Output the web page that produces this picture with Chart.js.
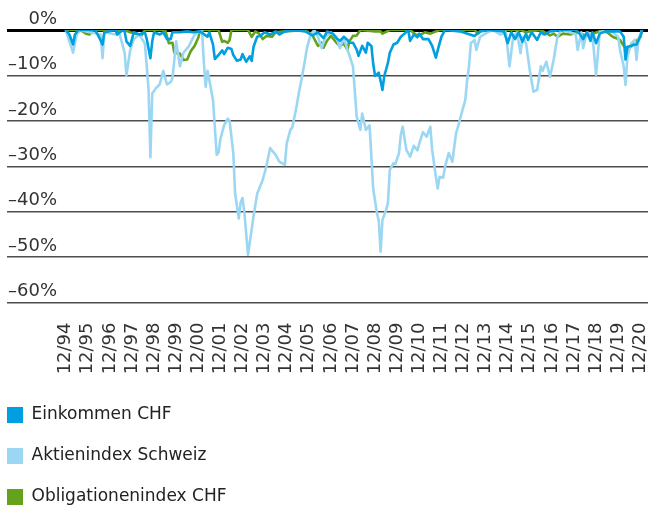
<!DOCTYPE html>
<html>
<head>
<meta charset="utf-8">
<script src="https://cdn.jsdelivr.net/npm/chart.js@4.4.1/dist/chart.umd.min.js"></script>
<style>
html,body{margin:0;padding:0;background:#fff;}
canvas{display:block;}
</style>
</head>
<body>
<canvas id="c" width="648" height="506"></canvas>
<script>
// ---- data (months since 12/1994, drawdown in %) ----
const seriesNames = ['Einkommen CHF', 'Aktienindex Schweiz', 'Obligationenindex CHF'];
const seriesColors = ['#009fe0', '#9bd7f3', '#64a11c'];

const xTickLabels = ['12/94','12/95','12/96','12/97','12/98','12/99','12/00','12/01','12/02','12/03','12/04','12/05','12/06','12/07','12/08','12/09','12/10','12/11','12/12','12/13','12/14','12/15','12/16','12/17','12/18','12/19','12/20'];
const yTickLabels = ['0%','–10%','–20%','–30%','–40%','–50%','–60%'];

const einkommenMonths = [0,2,4,5,7,16,18,20,21,27,28,31,32,33,35,37,40,43,44,46,47,48,51,53,55,57,58,62,66,69,73,77,78,80,81,83,85,86,88,90,91,93,95,96,98,100,101,102,104,106,108,111,114,116,119,124,130,134,137,140,142,145,147,149,151,153,154,156,158,159,161,163,164,166,167,168,170,171,172,173,174,175,176,178,180,182,184,186,187,189,191,192,194,197,199,201,202,204,206,214,222,225,230,238,240,242,244,246,248,250,251,253,256,258,260,263,269,277,279,281,283,285,286,288,290,293,297,301,303,304,305,307,308,310,312,313];
const einkommenValues = [0,-1,-3.2,-1,0,0,-1.5,-3.2,-0.5,0,-1,0,-0.3,-2.5,-3.5,-0.5,-1,-0.5,-2,-6.2,-2.5,-0.5,-1,-0.5,-2,-2,-0.5,-0.5,-0.3,-0.5,-0.3,-1.5,-0.5,-3.2,-6.4,-5.5,-4.5,-5.3,-3.9,-4.2,-5.5,-6.8,-6.5,-5.3,-7,-5.8,-6.8,-3.7,-1.5,-1.2,-0.5,-1,-0.3,-1,-0.3,0,-0.3,-1.2,-0.5,-1.8,-0.3,-0.8,-1.8,-2.4,-1.5,-2.2,-2.8,-2.8,-4.3,-5.7,-3.5,-5,-2.8,-3.5,-7.5,-10.1,-9.4,-11.2,-13.2,-10.1,-8.7,-7.2,-5,-3.2,-2.8,-1.5,-0.8,0,-2.4,-1,-1.6,-0.8,-2,-2,-3.5,-6.1,-4.5,-1.5,0,-0.3,-1.3,-0.3,0,-0.3,-2.9,-0.5,-2,-0.5,-2.6,-0.8,-2.2,-0.5,-2.2,-0.5,-1,-0.3,0,0,-0.8,-2,-0.5,-2.4,-0.5,-2.9,-0.8,-0.3,-0.3,-0.3,-1.5,-6.5,-3.7,-3.5,-3.3,-3.2,-1.5,0];

const aktienMonths = [0,2,4,6,8,13,19,20,21,27,29,32,33,35,37,40,43,45,46,47,49,51,53,55,57,58,60,62,64,67,70,72,74,75,76,77,78,80,82,83,84,86,88,89,91,92,94,95,96,97,99,102,104,105,107,109,111,113,114,116,119,120,122,123,125,127,128,130,131,133,135,137,139,141,144,147,149,151,153,154,156,158,160,161,163,165,166,167,169,170,171,172,174,175,176,178,179,181,182,183,185,187,189,191,192,194,196,198,199,201,202,203,205,206,208,210,211,212,213,215,217,218,219,220,222,223,225,229,232,236,239,241,243,245,247,248,250,252,254,256,258,259,261,263,265,267,269,274,277,278,280,281,283,286,288,290,293,297,300,301,303,304,305,307,309,310,311,313];
const aktienValues = [0,-2.5,-5,-1,0,-0.5,-1,-6.2,-0.5,-1,-0.5,-5,-10,-4.5,-2,-1,-3,-13,-28,-14,-12.8,-12,-9,-12,-11.5,-10.5,-2.5,-8,-5,-3.5,-1,-0.5,0,-7,-12.5,-9,-11,-15.5,-27.5,-27,-24,-21,-19.5,-20,-27,-36,-41.5,-38,-37,-40,-49.5,-41,-36,-35,-33,-30,-26,-27,-27.5,-29,-29.7,-25,-22,-21.5,-17.6,-13,-11,-6.5,-4,-1,0,-1.5,-4,-1.5,-0.5,-1.5,-4,-1.5,-4.4,-5.5,-8,-19,-22,-18.4,-22,-21,-28,-35,-40.3,-42,-48.8,-41.8,-39.6,-38,-30.8,-29.3,-29.5,-27.1,-23,-21.3,-26.4,-27.9,-25.5,-26.5,-25,-22.5,-23.5,-21.3,-26.4,-32.3,-34.9,-32.3,-32.5,-30.1,-27.1,-29,-25.7,-22.7,-21.3,-18.3,-15.4,-11,-8,-2.9,-2.2,-4.4,-1.5,-0.5,0,-1,-0.5,-8,-1.5,-0.5,-5.1,-1.5,-3,-8.8,-13.6,-13.2,-8,-9,-7,-10.3,-6.5,-1.5,0,-0.5,-1,-4.4,-0.5,-4,-0.5,-1,-9.9,-0.5,0,-0.5,-1.5,-4.4,-8,-12.1,-5.9,-3,-2.2,-6.6,-2,0];

const obligationenMonths = [0,8,11,13,15,32,35,38,41,43,54,56,58,59,62,64,66,67,68,70,72,73,83,85,86,88,89,90,99,101,103,105,107,109,112,114,119,130,134,137,139,140,142,144,145,147,149,151,153,154,156,158,160,168,171,172,176,187,190,192,195,198,203,222,224,226,247,250,252,258,263,265,267,270,274,278,282,286,290,294,297,299,301,303,305,307,308,310,312,313];
const obligationenValues = [0,0,-0.8,-1,0,0,-0.5,-0.8,-1.3,0,0,-2.9,-2.8,-5,-5.2,-6.6,-6.5,-5.5,-4.6,-3.5,-1.7,0,0,-2.6,-2.4,-2.8,-2.2,0,0,-1.5,-0.3,-0.8,-2,-1.3,-1.5,-0.5,-0.3,0,-1.2,-3.5,-2.8,-3.9,-2.3,-1.3,-1.8,-2.8,-3.5,-3,-4.3,-2.5,-1.3,-1.2,0,-0.3,-0.3,-0.8,0,0,-1,-1.2,-0.5,-0.8,0,0,-0.8,0,0,-0.5,-0.3,0,-1.2,-0.8,-1.5,-0.8,-1,-0.5,-1.2,-0.8,-0.3,-0.5,-1.5,-1.8,-2.2,-3.5,-4.2,-3.6,-3.3,-2.4,-1.5,-0.3];

// ---- chart ----
Chart.defaults.font.family = "'DejaVu Sans', sans-serif";

const toPoints = (ms, vs) => ms.map((m, i) => ({x: m, y: vs[i]}));

const legendPlacer = {
  id: 'legendPlacer',
  afterLayout(chart) {
    const lg = chart.legend;
    const ca = chart.chartArea;
    const pad = lg.options.labels.padding;
    lg.left = ca.left - pad;
    lg.width = 250;
    lg.right = lg.left + lg.width;
    lg.top = ca.bottom + 80;
    lg.height = 130;
    lg.bottom = lg.top + lg.height;
  }
};

function lineDataset(i, months, values) {
  return {
    label: seriesNames[i],
    data: toPoints(months, values),
    borderColor: seriesColors[i],
    backgroundColor: seriesColors[i],
    borderWidth: 2.6,
    pointRadius: 0,
    tension: 0,
    borderJoinStyle: 'round',
    fill: false
  };
}

new Chart(document.getElementById('c'), {
  type: 'line',
  data: {
    datasets: [
      lineDataset(0, einkommenMonths, einkommenValues),
      lineDataset(1, aktienMonths, aktienValues),
      lineDataset(2, obligationenMonths, obligationenValues)
    ]
  },
  options: {
    responsive: false,
    animation: false,
    devicePixelRatio: 1,
    layout: {padding: {top: 30, left: 7, right: 0, bottom: 80.5}},
    scales: {
      x: {
        type: 'linear',
        min: -31.87,
        max: 316.2,
        grid: {display: false, drawTicks: false},
        border: {display: false},
        afterBuildTicks: s => { s.ticks = xTickLabels.map((_, i) => ({value: i * 12})); },
        afterFit: s => { s.height = 72; s.paddingLeft = 0; s.paddingRight = 0; },
        ticks: {
          autoSkip: false, minRotation: 90, maxRotation: 90, padding: 20,
          color: '#333', font: {size: 18},
          callback: (v, i) => xTickLabels[i]
        }
      },
      y: {
        min: -60, max: 0, z: 1,
        border: {display: false},
        afterFit: s => { s.width = 0; s.paddingTop = 0; s.paddingBottom = 0; },
        grid: {
          drawTicks: false,
          color: c => (c.tick && c.tick.value === 0) ? '#000' : '#4d4d4d',
          lineWidth: c => (c.tick && c.tick.value === 0) ? 3 : 1.5
        },
        ticks: {
          stepSize: 10, mirror: true, crossAlign: 'far', padding: 1, labelOffset: -11,
          color: '#333', font: {size: 18},
          callback: v => yTickLabels[Math.round(-v / 10)]
        }
      }
    },
    plugins: {
      tooltip: {enabled: false},
      legend: {
        position: 'bottom',
        align: 'start',
        maxHeight: 51,
        labels: {
          boxWidth: 16, boxHeight: 16, padding: 24,
          color: '#222', font: {size: 17},
          generateLabels: c => Chart.defaults.plugins.legend.labels.generateLabels(c).map(l => ({...l, lineWidth: 0}))
        }
      }
    }
  },
  plugins: [legendPlacer]
});
</script>
</body>
</html>
